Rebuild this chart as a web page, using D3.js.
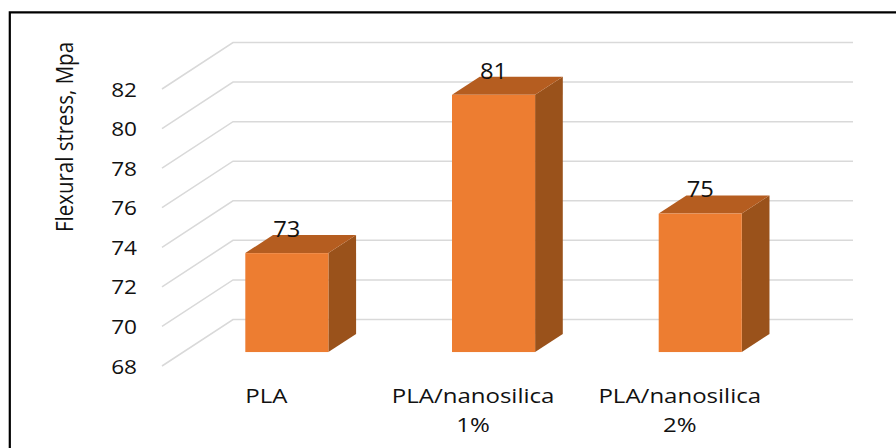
<!DOCTYPE html>
<html>
<head>
<meta charset="utf-8">
<style>
  html, body { margin: 0; padding: 0; background: #fff; }
  svg { display: block; }
  text { font-family: "Open Sans", sans-serif; fill: #111; }
</style>
<script src="https://cdn.jsdelivr.net/npm/d3@7"></script>
</head>
<body>
<script>
const categories = [["PLA"], ["PLA/nanosilica", "1%"], ["PLA/nanosilica", "2%"]];
const values = [73, 81, 75];
const yTicks = [68, 70, 72, 74, 76, 78, 80, 82];
const axisTitle = "Flexural stress, Mpa";

const width = 896, height = 448;
const svg = d3.select("body").append("svg").attr("width", width).attr("height", height);

// Widens a text element horizontally, keeping its height
function stretch(sel, factor) {
  sel.each(function () {
    d3.select(this)
      .attr("textLength", this.getComputedTextLength() * factor)
      .attr("lengthAdjust", "spacingAndGlyphs");
  });
}

// Outer frame
svg.append("path")
  .attr("d", `M9.8,${height} V12.3 H${width}`)
  .attr("fill", "none").attr("stroke", "#000").attr("stroke-width", 2.2);

// Value scale measured on the front edge of the floor
const y = d3.scaleLinear().domain([68, 82]).range([366, 89]);
// Oblique projection: depth 0 is the front edge, depth 1 the back wall
const depthX = d3.scaleLinear().domain([0, 1]).range([0, 71]);
const depthY = d3.scaleLinear().domain([0, 1]).range([0, -46.5]);
const frontX = 162, backRight = 853;
const barFront = 0.3, barBack = 0.69;

const x = d3.scaleBand().domain(d3.range(categories.length)).range([162, 782.5]).paddingInner(0.598).paddingOuter(0.3);
const line = d3.line();

// Gridlines: diagonal on the side wall, then flat along the back wall
svg.append("g").selectAll("path").data(yTicks).join("path")
  .attr("d", v => line([
    [frontX, y(v)],
    [frontX + depthX(1), y(v) + depthY(1)],
    [backRight, y(v) + depthY(1)]
  ]))
  .attr("fill", "none").attr("stroke", "#d9d9d9").attr("stroke-width", 1.5);

// Tick labels
svg.append("g").selectAll("text").data(yTicks).join("text")
  .attr("x", 137).attr("y", v => y(v) + 7.5)
  .attr("text-anchor", "end").attr("font-size", 20)
  .text(d => d)
  .call(stretch, 1.13);

// Axis title
svg.append("text")
  .attr("transform", "translate(73,137) rotate(-90)")
  .attr("text-anchor", "middle").attr("font-size", 24)
  .attr("textLength", 190).attr("lengthAdjust", "spacingAndGlyphs")
  .text(axisTitle);

// 3D bars
const bars = svg.append("g").selectAll("g").data(values).join("g");
const dx = depthX(barBack) - depthX(barFront);
const dy = depthY(barBack) - depthY(barFront);
const x0 = i => x(i) + depthX(barFront);
const x1 = i => x0(i) + x.bandwidth();
const yFront = v => y(v) + depthY(barFront);

bars.append("path").attr("fill", "#9a521b")
  .attr("d", (v, i) => line([
    [x1(i), yFront(v)], [x1(i) + dx, yFront(v) + dy],
    [x1(i) + dx, yFront(68) + dy], [x1(i), yFront(68)]
  ]) + "Z");
bars.append("path").attr("fill", "#b55d20")
  .attr("d", (v, i) => line([
    [x0(i), yFront(v)], [x0(i) + dx, yFront(v) + dy],
    [x1(i) + dx, yFront(v) + dy], [x1(i), yFront(v)]
  ]) + "Z");
bars.append("rect").attr("fill", "#ed7d31")
  .attr("x", (v, i) => x0(i)).attr("width", x.bandwidth())
  .attr("y", v => yFront(v)).attr("height", v => yFront(68) - yFront(v));

// Value labels
svg.append("g").selectAll("text").data(values).join("text")
  .attr("x", (v, i) => x0(i) + x.bandwidth() / 2)
  .attr("y", v => yFront(v) + dy + 2)
  .attr("text-anchor", "middle").attr("font-size", 21)
  .text(d => d)
  .call(stretch, 1.13);

// Category labels, one text element per wrapped line
const lineGap = 29;
svg.append("g").selectAll("g").data(categories).join("g")
  .each(function (c, i) {
    d3.select(this).selectAll("text").data(c).join("text")
      .attr("x", x0(i) + x.bandwidth() / 2 - 20.5)
      .attr("y", (d, k) => 403 + k * lineGap)
      .attr("text-anchor", "middle").attr("font-size", 20)
      .text(d => d)
      .call(stretch, 1.2);
  });
</script>
</body>
</html>
